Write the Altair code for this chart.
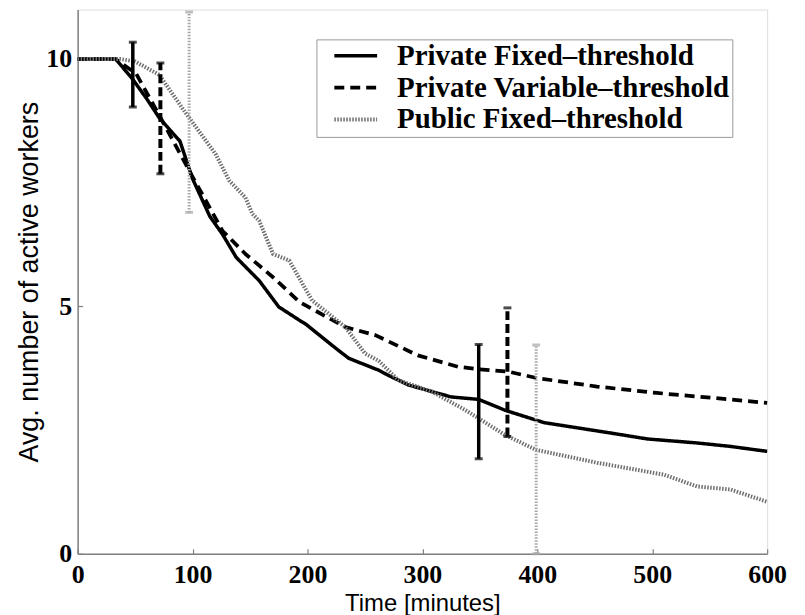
import altair as alt
import pandas as pd

series_names = ["Private Fixed–threshold", "Private Variable–threshold", "Public Fixed–threshold"]

pf_x = [0, 33, 47, 60, 71, 89, 100, 115, 126, 138, 158, 175, 193, 198, 227, 236, 262, 270, 288, 325, 349, 372, 406, 464, 496, 539, 568, 600]
pf_y = [10, 10, 9.62, 9.2, 8.81, 8.34, 7.58, 6.82, 6.46, 5.99, 5.52, 4.99, 4.72, 4.65, 4.11, 3.95, 3.71, 3.61, 3.41, 3.17, 3.12, 2.9, 2.65, 2.44, 2.32, 2.24, 2.17, 2.07]

pv_x = [0, 33, 51, 72, 100, 126, 146, 170, 193, 233, 259, 296, 331, 349, 375, 400, 452, 504, 553, 600]
pv_y = [10, 10, 9.7, 8.82, 7.62, 6.53, 6.06, 5.59, 5.09, 4.58, 4.42, 4.01, 3.78, 3.73, 3.68, 3.55, 3.38, 3.25, 3.15, 3.05]

pub_x = [0, 37, 50, 71, 94, 120, 132, 146, 152, 158, 170, 184, 204, 233, 250, 262, 279, 308, 337, 372, 399, 452, 510, 539, 568, 600]
pub_y = [10, 10, 9.95, 9.68, 8.91, 8.08, 7.54, 7.2, 6.87, 6.73, 6.06, 5.93, 5.12, 4.58, 4.05, 3.9, 3.51, 3.28, 2.91, 2.4, 2.1, 1.84, 1.6, 1.36, 1.3, 1.05]

eb_series = [series_names[0], series_names[0], series_names[1], series_names[1], series_names[2], series_names[2]]
eb_x = [48, 349, 72, 374, 97, 399]
eb_lo = [9.03, 1.92, 7.68, 2.37, 6.9, 0.0]
eb_hi = [10.34, 4.23, 9.92, 4.97, 10.95, 4.22]

x_ticks = [0, 100, 200, 300, 400, 500, 600]
y_ticks = [0, 5, 10]

rows = []
for name, xs_, ys_ in zip(series_names, [pf_x, pv_x, pub_x], [pf_y, pv_y, pub_y]):
    for a, b in zip(xs_, ys_):
        rows.append({"series": name, "x": a, "y": b})
df = pd.DataFrame(rows)
eb_df = pd.DataFrame({"series": eb_series, "x": eb_x, "lo": eb_lo, "hi": eb_hi})

xs = alt.Scale(domain=[0, 600], nice=False, zero=False)
ys = alt.Scale(domain=[0, 11], nice=False, zero=False)

colors = ["#000000", "#000000", "#6e6e6e"]
dashes = [[1, 0], [10, 6], [1.5, 1.5]]
widths = [3.5, 4, 3]

leg = alt.Legend(
    orient="none", legendX=240, legendY=30, title=None,
    symbolType="M-2.15,0H2.15", symbolSize=400, symbolOffset=23,
    labelFont="Liberation Serif", labelFontWeight="bold", labelFontSize=29,
    labelColor="black", labelOffset=27, labelLimit=700,
    labelExpr="datum.label + '\u00a0\u00a0'",
    strokeColor="#999999", fillColor="white", padding=2, rowPadding=2,
)

x_axis = alt.Axis(values=x_ticks, ticks=False, domainColor="#808080", domainWidth=1.5,
                  labelFont="Liberation Serif", labelFontWeight="bold", labelFontSize=26,
                  labelColor="black", labelPadding=8, labelFlush=False, labelOverlap=False,
                  title="Time [minutes]", titleFont="Liberation Sans", titleFontWeight="normal",
                  titleFontSize=24, titleColor="black", titlePadding=4, grid=False, orient="bottom")
y_axis = alt.Axis(values=y_ticks, ticks=False, domainColor="#808080", domainWidth=1.5,
                  labelFont="Liberation Serif", labelFontWeight="bold", labelFontSize=26,
                  labelColor="black", labelPadding=6, labelFlush=False, labelOverlap=False,
                  title="Avg. number of active workers", titleFont="Liberation Sans",
                  titleFontWeight="normal", titleFontSize=27, titleColor="black",
                  titlePadding=2, grid=False, orient="left")

lines = alt.Chart(df).mark_line(strokeJoin="round").encode(
    x=alt.X("x:Q", scale=xs, axis=x_axis),
    y=alt.Y("y:Q", scale=ys, axis=y_axis),
    color=alt.Color("series:N", scale=alt.Scale(domain=series_names, range=colors), legend=leg),
    strokeDash=alt.StrokeDash("series:N", scale=alt.Scale(domain=series_names, range=dashes), legend=leg),
    strokeWidth=alt.StrokeWidth("series:N", scale=alt.Scale(domain=series_names, range=widths), legend=leg),
)

tick_layer = alt.Chart(df).mark_point(opacity=0).encode(
    x=alt.X("x:Q", scale=xs, axis=alt.Axis(values=x_ticks, orient="bottom", offset=-5, tickSize=5,
                                           tickColor="#808080", tickWidth=1.2, labels=False, domain=False,
                                           title=None, grid=False)),
    y=alt.Y("y:Q", scale=ys, axis=alt.Axis(values=y_ticks, orient="left", offset=-5, tickSize=5,
                                           tickColor="#808080", tickWidth=1.2, labels=False, domain=False,
                                           title=None, grid=False)),
)

eb_styles = [
    (series_names[0], "#000000", 3.5, [1, 0]),
    (series_names[1], "#000000", 4, [9, 4]),
    (series_names[2], "#a8a8a8", 3, [1.5, 1.5]),
]
eb_layers = []
for name, col, w, dash in eb_styles:
    base = alt.Chart(eb_df).transform_filter(alt.datum.series == name)
    rule = base.mark_rule(color=col, strokeWidth=w, strokeDash=dash).encode(
        x=alt.X("x:Q", scale=xs, axis=None),
        y=alt.Y("lo:Q", scale=ys, axis=None),
        y2="hi:Q",
    )
    caps = base.transform_fold(["lo", "hi"], as_=["end", "val"]).mark_tick(
        orient="horizontal", color=col, size=8, thickness=3
    ).encode(
        x=alt.X("x:Q", scale=xs, axis=None),
        y=alt.Y("val:Q", scale=ys, axis=None),
    )
    eb_layers += [rule, caps]

chart = alt.layer(lines, *eb_layers, tick_layer).resolve_axis(
    x="independent", y="independent"
).resolve_scale(x="shared", y="shared").properties(
    width=693, height=547,
    autosize=alt.AutoSizeParams(type="none"),
    padding={"left": 70, "top": 0, "right": 30, "bottom": 62},
).configure_view(stroke=None).configure(background="white")

chart.save("out.html", embed_options={"renderer": "svg", "actions": False})
